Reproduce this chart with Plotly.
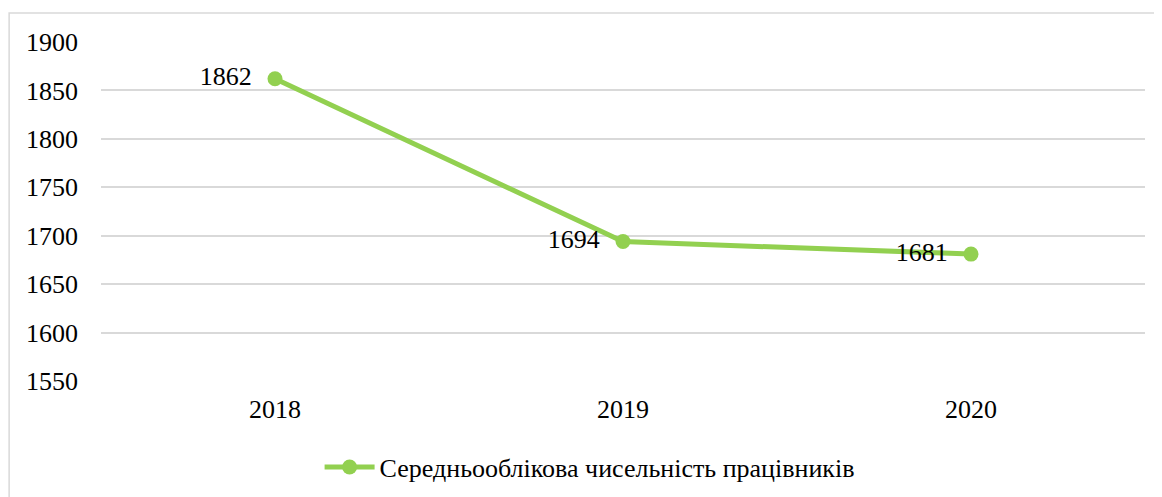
import plotly.graph_objects as go

years = ['2018', '2019', '2020']
workers = [1862, 1694, 1681]
series_name = 'Середньооблікова чисельність працівників'

green = '#92D050'
grid = '#d9d9d9'
font_family = 'Times New Roman, serif'

fig = go.Figure()
fig.add_trace(go.Scatter(
    x=years, y=workers, name=series_name,
    mode='lines+markers+text',
    line=dict(color=green, width=5),
    marker=dict(color=green, size=15),
    # nbsp pads the label away from the marker
    text=[f'{v}\u00a0\u00a0' for v in workers],
    textposition='middle left',
    textfont=dict(family=font_family, size=26, color='black'),
))

fig.update_layout(
    width=1154, height=489,
    margin=dict(l=93, r=17, t=34, b=116, autoexpand=False),
    paper_bgcolor='white', plot_bgcolor='white',
    font=dict(family=font_family, size=26, color='black'),
    showlegend=True,
    legend=dict(orientation='h', x=0.468, xanchor='center', y=-0.254, yanchor='middle',
                itemwidth=50, font=dict(family=font_family, size=26)),
    # chart border like Excel
    shapes=[dict(type='rect', xref='paper', yref='paper',
                 x0=-0.088, x1=1.2, y0=-0.6, y1=1.0855,
                 line=dict(color=grid, width=1.5))],
)
fig.update_xaxes(type='category', range=[-0.5, 2.5], showgrid=False,
                 showline=False, ticks='', ticklabelstandoff=10, automargin=False,
                 tickfont=dict(family=font_family, size=26))
fig.update_yaxes(range=[1550, 1900], dtick=50, showgrid=True, gridcolor=grid,
                 gridwidth=1.5, zeroline=False, showline=False, ticks='',
                 ticklabelstandoff=22, automargin=False,
                 tickfont=dict(family=font_family, size=26))

fig.write_html('out.html')
